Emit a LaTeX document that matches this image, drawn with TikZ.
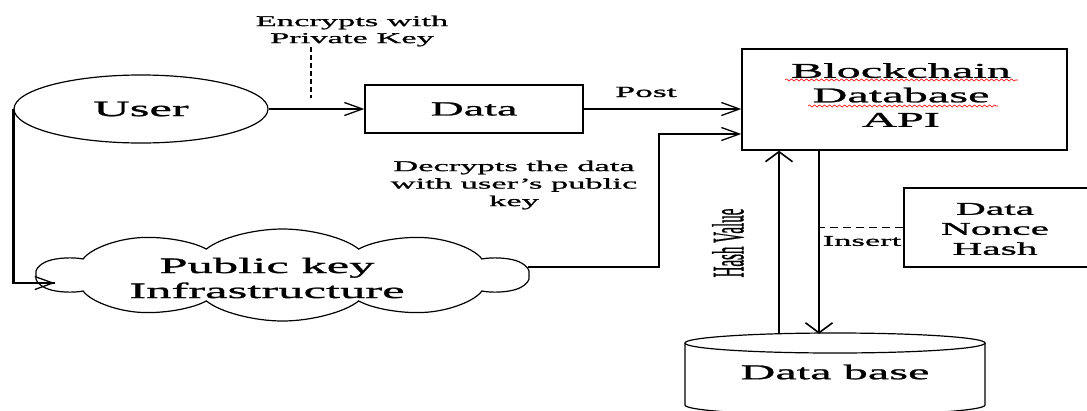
\documentclass[tikz,border=0pt]{standalone}
\usepackage{fontspec}
\setmainfont{Liberation Serif}[FakeStretch=2.3,FakeBold=1.2]
\newfontfamily\plainfont{Liberation Serif}[FakeBold=1]
\usetikzlibrary{shapes.geometric,shapes.symbols,arrows.meta,decorations.pathmorphing}
\newcommand{\fs}[2]{\fontsize{#1}{#2}\selectfont}
\tikzset{
  box/.style={draw, line width=1.4pt, rectangle, inner sep=0pt},
  lbl/.style={align=center, inner sep=0pt, text=black},
  conn/.style={line width=1.3pt},
  vconn/.style={line width=2.4pt},
  harrow/.style={conn, -{Straight Barb[length=18pt,width=13pt,line width=1.3pt]}},
  varrow/.style={vconn, -{Straight Barb[length=10pt,width=27pt,line width=1.6pt]}},
  wavy/.style={draw=red, line width=0.6pt, decorate,
    decoration={snake, segment length=5pt, amplitude=1.1pt}},
  cloudshape/.style={cloud, draw, line width=1.2pt, cloud puffs=10, cloud puff arc=125,
    aspect=2.3, minimum width=214pt, minimum height=92pt, inner sep=0pt, transform shape}
}
\begin{document}
\begin{tikzpicture}[x=1pt,y=-1pt]
\useasboundingbox (0,0) rectangle (1087,410);
\clip (0,0) rectangle (1087,410);

% shapes
\node[draw, ellipse, line width=1.2pt, minimum width=254pt, minimum height=68pt, inner sep=0pt,
      font=\fs{22}{24}] (user) at (141,109) {User};
\node[box, minimum width=218pt, minimum height=48pt, font=\fs{20}{24}] (data) at (474,109) {Data};
\node[box, minimum width=325pt, minimum height=101pt] (bc) at (904.5,99.5) {};
\node[lbl, font=\fs{21}{24.5}] (bct) at (901,95) {Blockchain\\Database\\API};
\node[box, minimum width=200pt, minimum height=79pt] (dnh) at (1004,227.5) {};
\node[lbl, font=\fs{18}{20}] (dnht) at (995,229) {Data\\Nonce\\Hash};
\begin{scope}[shift={(282.5,275)}, xscale=2.3]
  \node[cloudshape] (pki) at (0,0) {};
\end{scope}
\node[lbl, font=\fs{22}{25}] (pkit) at (267,278) {Public key\\Infrastructure};

% database cylinder
\draw[line width=1.2pt] (835,343) ellipse [x radius=150, y radius=10];
\draw[line width=1.2pt] (685,343) -- (685,405) arc[start angle=180, end angle=360, x radius=150, y radius=-10] -- (985,343);
\node[lbl, minimum width=300pt, minimum height=76pt, font=\fs{21}{24}] (db) at (835,372) {Data base};

% labels
\node[lbl, font=\fs{15}{17}] (enc) at (352,31) {Encrypts with\\Private Key};
\node[lbl, font=\fs{15.5}{17}] (post) at (646,92) {Post};
\node[lbl, font=\fs{15}{17.5}] (dec) at (514,185) {Decrypts the data\\with user's public\\key};
\node[lbl, font=\fs{15}{17}] (ins) at (862,241) {Insert};
\node[lbl] (hv) at (728,243) {\scalebox{3}[1]{\rotatebox{90}{\plainfont\fs{15}{17}Hash Value}}};

% spell-check underlines
\draw[wavy] (785,80) -- (1018,80);
\draw[wavy] (808,106) -- (998,106);

% coordinates
\coordinate (encend) at (311,98);
\coordinate (turn) at (659,134);
\coordinate (up) at ([xshift=-56pt]db.north);
\coordinate (dn) at ([xshift=-16pt]db.north);
\coordinate (pkiin) at ([xshift=20pt,yshift=-8pt]pki.west);
\coordinate (pkiout) at ([xshift=-2pt,yshift=8pt]pki.east);

% connectors
\draw[harrow] (user.east) -- (data.west);
\draw[line width=2.8pt, dash pattern=on 5pt off 3pt] (encend |- enc.south) -- (encend);
\draw[harrow] (data.east) -- (data.east -| bc.west);
\draw[harrow] (pkiout) -| (turn) -- (turn -| bc.west);
\draw[vconn] (user.west) |- (pkiin);
\draw[harrow] ([xshift=-20pt]pkiin) -- (pkiin);
\draw[varrow] (up) -- (up |- bc.south);
\draw[varrow] (dn |- bc.south) -- (dn);
\draw[line width=1.3pt, dash pattern=on 8pt off 5pt] (dnh.west) -- (dnh.west -| dn);
\end{tikzpicture}
\end{document}
